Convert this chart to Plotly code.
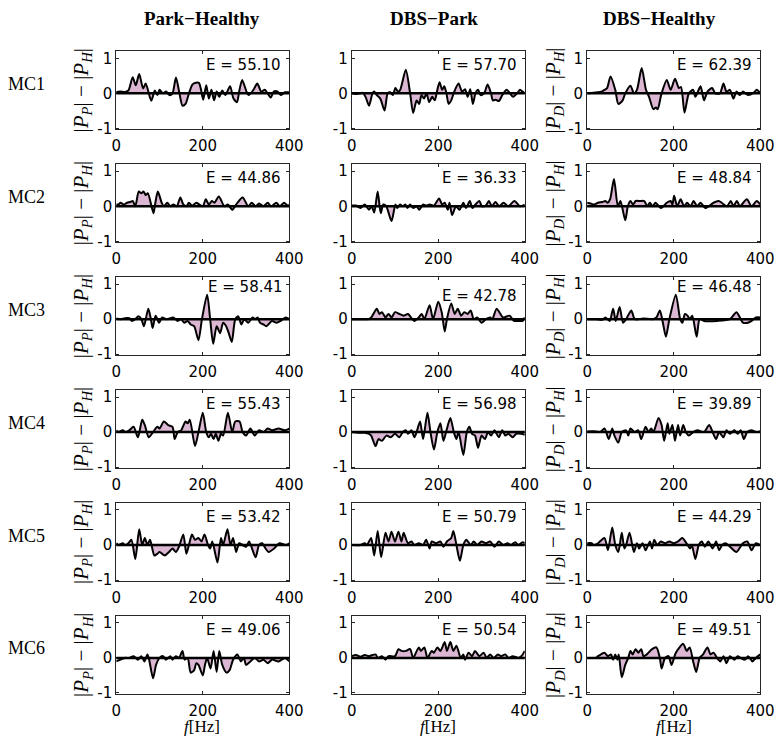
import plotly.graph_objects as go
from plotly.subplots import make_subplots

# Spaltentitel / Zeilen
COLUMNS = ["Park\u2212Healthy", "DBS\u2212Park", "DBS\u2212Healthy"]
ROWS = ["MC1", "MC2", "MC3", "MC4", "MC5", "MC6"]

E_VALUES = [
    [55.10, 57.70, 62.39],
    [44.86, 36.33, 48.84],
    [58.41, 42.78, 46.48],
    [55.43, 56.98, 39.89],
    [53.42, 50.79, 44.29],
    [49.06, 50.54, 49.51],
]

# Differenzspektren (f in Hz, Wert)
PH_MC1 = [(0, 0.04), (10, 0.05), (20, 0.04), (28, 0.08), (38, 0.46), (45, 0.23), (53, 0.55), (62, 0.14),
          (68, 0.28), (81, -0.21), (89, 0.08), (95, -0.05), (100, 0.1), (108, 0.0), (115, 0.05), (123, -0.05),
          (130, 0.0), (138, 0.45), (146, 0.0), (153, -0.35), (160, -0.3), (168, 0.0), (176, 0.25), (184, 0.3),
          (191, 0.3), (196, 0.1), (201, -0.18), (208, 0.23), (214, -0.15), (220, 0.1), (226, -0.2), (232, 0.05),
          (238, -0.1), (245, 0.08), (252, -0.05), (263, 0.2), (271, -0.15), (279, -0.25), (284, 0.05), (291, 0.38),
          (301, 0.05), (306, -0.05), (317, 0.1), (326, 0.28), (335, 0.05), (343, 0.1), (350, 0.0), (357, -0.12),
          (364, 0.05), (373, 0.05), (380, -0.05), (390, 0.03), (400, 0.03)]
DP_MC1 = [(0, 0.0), (10, -0.02), (20, 0.0), (25, 0.02), (32, -0.1), (40, -0.35), (48, 0.0), (52, 0.05),
          (58, -0.05), (66, -0.15), (76, -0.49), (83, 0.0), (89, 0.03), (95, -0.05), (101, 0.15), (107, 0.05),
          (112, 0.1), (125, 0.67), (135, 0.0), (142, -0.56), (150, -0.2), (156, -0.3), (161, -0.05), (167, -0.15),
          (173, 0.0), (179, -0.25), (186, -0.1), (192, -0.2), (197, 0.05), (203, 0.32), (209, 0.1), (214, 0.2),
          (219, 0.0), (224, -0.3), (230, -0.2), (237, 0.05), (247, 0.28), (255, 0.05), (262, 0.12), (268, -0.1),
          (274, 0.12), (280, -0.3), (286, 0.0), (292, 0.1), (298, -0.05), (306, 0.0), (314, 0.25), (322, 0.0),
          (326, -0.2), (333, -0.18), (340, -0.22), (348, -0.05), (358, 0.1), (366, 0.0), (373, -0.1), (382, 0.0),
          (389, 0.1), (395, 0.05), (400, 0.0)]
DH_MC1 = [(0, 0.0), (15, 0.02), (25, 0.03), (33, 0.05), (40, 0.1), (46, 0.15), (54, 0.48), (65, 0.1),
          (72, -0.3), (82, -0.2), (88, 0.0), (100, 0.22), (108, 0.0), (115, 0.1), (126, 0.72), (136, 0.1),
          (143, -0.1), (153, -0.45), (159, -0.4), (163, -0.45), (172, 0.0), (184, 0.38), (193, 0.1), (203, 0.42),
          (212, 0.15), (217, 0.18), (225, -0.55), (235, 0.0), (245, 0.1), (250, -0.1), (262, 0.2), (270, -0.2),
          (278, 0.05), (289, 0.15), (296, 0.0), (307, 0.0), (315, 0.28), (322, 0.05), (330, 0.1), (338, -0.15),
          (345, 0.05), (353, -0.05), (360, 0.05), (372, -0.05), (385, 0.02), (392, 0.1), (400, 0.0)]

PH_MC2 = [(0, 0.05), (5, 0.05), (10, 0.1), (17, 0.05), (25, 0.1), (32, 0.12), (38, 0.15), (44, 0.0),
          (52, 0.42), (58, 0.37), (63, 0.42), (68, 0.32), (73, 0.37), (86, -0.2), (89, 0.0), (96, 0.42), (105, 0.1),
          (110, 0.0), (118, 0.1), (125, 0.0), (132, 0.05), (140, 0.0), (148, 0.25), (155, 0.05), (162, 0.0),
          (168, 0.1), (175, 0.02), (185, 0.1), (192, 0.05), (200, 0.0), (207, 0.2), (214, 0.05), (221, 0.15),
          (227, 0.1), (237, 0.28), (250, 0.0), (258, 0.05), (268, -0.1), (277, 0.05), (292, 0.25), (305, 0.0),
          (313, 0.1), (322, 0.0), (330, 0.08), (340, 0.0), (350, 0.1), (358, 0.0), (370, 0.1), (378, 0.0),
          (388, 0.1), (395, 0.03), (400, 0.03)]
DP_MC2 = [(0, 0.02), (10, 0.02), (20, -0.05), (30, 0.05), (40, -0.1), (46, 0.0), (52, -0.18), (60, 0.42),
          (67, -0.2), (73, 0.05), (80, 0.0), (92, -0.42), (101, 0.05), (105, -0.05), (112, 0.05), (118, 0.0),
          (124, 0.05), (129, -0.05), (135, 0.05), (142, -0.05), (150, 0.0), (156, -0.1), (165, 0.05), (172, 0.02),
          (180, 0.05), (190, 0.02), (202, 0.22), (209, 0.05), (215, 0.1), (222, -0.1), (226, 0.1), (232, -0.25),
          (241, 0.0), (249, -0.1), (258, 0.1), (264, -0.05), (273, 0.15), (279, -0.05), (286, 0.05), (295, 0.15),
          (301, 0.0), (310, 0.02), (317, 0.15), (324, 0.0), (332, 0.12), (341, 0.0), (351, 0.1), (362, 0.0),
          (376, 0.15), (389, 0.0), (400, 0.05)]
DH_MC2 = [(0, 0.1), (8, 0.08), (15, 0.05), (25, 0.1), (35, 0.12), (42, 0.15), (47, 0.1), (53, 0.2),
          (62, 0.78), (71, 0.0), (77, 0.15), (88, -0.4), (94, 0.0), (100, 0.15), (106, 0.05), (112, 0.15),
          (122, 0.15), (132, 0.15), (139, 0.0), (145, 0.1), (151, 0.0), (158, 0.1), (166, 0.0), (171, -0.05),
          (184, 0.1), (193, 0.15), (197, 0.05), (201, 0.3), (208, 0.0), (216, 0.2), (224, 0.0), (231, 0.1),
          (239, 0.0), (246, 0.15), (254, 0.0), (262, 0.1), (273, -0.05), (281, 0.0), (292, 0.1), (304, 0.15),
          (311, 0.1), (323, 0.0), (332, 0.15), (338, 0.0), (346, 0.15), (353, 0.0), (369, 0.2), (380, 0.0),
          (392, 0.15), (400, 0.05)]

PH_MC3 = [(0, 0.02), (10, 0.0), (20, 0.03), (30, 0.03), (36, -0.05), (44, 0.0), (51, 0.08), (58, 0.0),
          (64, -0.2), (74, 0.3), (80, 0.0), (84, -0.25), (91, 0.1), (99, -0.1), (106, 0.05), (116, 0.0),
          (132, 0.05), (142, -0.05), (150, 0.0), (157, -0.1), (165, -0.05), (172, -0.15), (180, -0.2), (190, -0.6),
          (198, 0.0), (210, 0.7), (217, 0.0), (224, -0.7), (232, -0.2), (240, -0.4), (247, -0.1), (254, -0.2),
          (260, -0.4), (267, -0.65), (275, 0.0), (282, 0.08), (289, -0.15), (296, 0.0), (305, -0.1), (315, 0.05),
          (321, 0.0), (327, 0.05), (332, -0.1), (340, -0.15), (347, -0.2), (360, -0.05), (370, -0.1), (380, -0.05),
          (392, 0.05), (400, 0.0)]
DP_MC3 = [(0, 0.0), (20, 0.0), (38, 0.0), (45, 0.05), (58, 0.3), (64, 0.15), (70, 0.2), (78, 0.05),
          (85, 0.15), (92, 0.05), (100, 0.2), (110, 0.15), (120, 0.1), (130, 0.15), (140, 0.0), (145, -0.05),
          (155, 0.05), (162, 0.15), (168, 0.0), (180, 0.4), (188, 0.0), (200, 0.5), (208, 0.2), (215, -0.35),
          (220, 0.0), (230, 0.45), (238, 0.15), (245, 0.3), (253, 0.1), (260, 0.2), (268, 0.15), (275, 0.25),
          (282, 0.0), (290, 0.05), (300, -0.1), (310, 0.0), (320, 0.05), (325, 0.0), (335, 0.3), (350, 0.05),
          (365, 0.1), (375, -0.05), (385, -0.05), (395, -0.05), (400, 0.05)]
DH_MC3 = [(0, 0.0), (20, 0.0), (35, -0.02), (42, 0.05), (52, -0.05), (60, 0.3), (66, -0.05), (75, 0.35),
          (83, -0.1), (90, 0.0), (102, 0.25), (110, 0.0), (130, 0.02), (150, 0.0), (160, 0.05), (168, 0.25),
          (175, -0.1), (182, -0.5), (190, 0.0), (205, 0.7), (215, 0.0), (220, -0.1), (226, 0.15), (232, 0.1),
          (237, 0.0), (243, 0.1), (253, -0.5), (260, 0.0), (270, -0.05), (300, -0.05), (330, 0.0), (345, 0.2),
          (355, 0.0), (360, -0.1), (372, -0.1), (380, -0.05), (390, 0.05), (400, 0.05)]

PH_MC4 = [(0, 0.05), (5, 0.0), (15, 0.05), (22, 0.0), (30, 0.05), (40, 0.15), (50, -0.15), (60, 0.35),
          (66, 0.2), (75, -0.15), (85, 0.0), (95, 0.15), (100, 0.1), (110, 0.3), (120, 0.2), (130, 0.15),
          (135, -0.2), (142, 0.0), (150, 0.05), (160, 0.3), (165, 0.25), (170, 0.35), (182, -0.4), (190, 0.0),
          (200, 0.55), (208, 0.0), (214, -0.15), (219, -0.05), (225, -0.2), (230, -0.05), (236, -0.25), (242, -0.05),
          (247, -0.1), (258, 0.55), (268, 0.0), (275, 0.3), (285, 0.3), (292, 0.0), (300, -0.1), (310, 0.1),
          (320, -0.1), (330, 0.05), (340, 0.0), (350, 0.1), (360, 0.05), (375, 0.1), (390, 0.05), (400, 0.1)]
DP_MC4 = [(0, 0.0), (15, -0.02), (30, -0.02), (40, -0.05), (45, -0.1), (55, -0.4), (62, -0.2), (70, -0.25),
          (80, -0.1), (90, -0.15), (100, -0.05), (110, -0.15), (118, 0.0), (125, 0.05), (130, -0.05), (138, 0.05),
          (145, -0.15), (150, 0.0), (158, 0.3), (165, -0.2), (175, 0.55), (182, 0.0), (190, -0.5), (198, 0.0),
          (205, 0.25), (212, -0.25), (218, 0.0), (228, 0.4), (236, 0.0), (242, -0.2), (247, 0.0), (258, -0.65),
          (266, 0.0), (272, 0.15), (278, -0.05), (285, -0.1), (292, -0.45), (300, -0.1), (308, -0.2), (315, 0.0),
          (322, -0.1), (330, 0.05), (335, -0.05), (340, -0.15), (348, 0.05), (355, -0.1), (362, -0.05), (372, -0.15),
          (380, -0.05), (392, -0.05), (400, -0.08)]
DH_MC4 = [(0, 0.02), (20, 0.02), (30, 0.0), (40, 0.1), (50, -0.2), (58, 0.1), (63, -0.1), (72, -0.3),
          (80, 0.0), (90, 0.05), (95, -0.1), (100, 0.1), (110, 0.0), (118, 0.05), (125, -0.2), (135, 0.15),
          (142, 0.0), (148, 0.1), (153, 0.0), (165, 0.4), (172, 0.2), (178, -0.25), (186, 0.25), (190, -0.05),
          (197, 0.2), (203, -0.25), (210, 0.2), (215, -0.1), (222, 0.2), (228, 0.0), (235, -0.1), (245, 0.0),
          (255, 0.05), (270, 0.0), (282, 0.2), (290, 0.0), (298, -0.2), (305, 0.0), (315, -0.15), (322, 0.05),
          (330, -0.05), (340, 0.05), (348, -0.05), (355, 0.05), (362, -0.2), (370, 0.0), (380, 0.05), (390, 0.0),
          (400, 0.02)]

PH_MC5 = [(0, 0.05), (5, 0.0), (15, 0.05), (20, 0.0), (28, 0.05), (35, 0.15), (44, -0.4), (53, 0.45),
          (60, 0.0), (66, 0.2), (72, 0.0), (78, 0.15), (88, -0.3), (95, -0.25), (100, -0.2), (112, -0.3),
          (122, -0.2), (130, -0.1), (138, -0.2), (145, -0.05), (155, 0.3), (162, -0.25), (168, 0.0), (175, 0.3),
          (182, 0.15), (190, 0.2), (197, 0.1), (204, 0.3), (212, 0.0), (217, -0.1), (222, 0.1), (234, -0.5),
          (242, 0.2), (247, 0.0), (257, 0.45), (264, 0.0), (270, 0.2), (277, -0.2), (284, 0.05), (292, 0.0),
          (300, -0.05), (307, 0.1), (322, -0.35), (330, 0.0), (337, 0.05), (345, -0.1), (352, -0.2), (365, -0.1),
          (377, 0.05), (392, 0.0), (400, 0.05)]
DP_MC5 = [(0, 0.0), (20, 0.0), (30, 0.05), (35, 0.0), (40, 0.1), (45, 0.2), (52, -0.3), (60, 0.4),
          (68, -0.35), (78, 0.35), (85, 0.1), (92, 0.38), (100, 0.1), (108, 0.38), (115, 0.1), (120, 0.35),
          (130, 0.05), (138, 0.1), (145, 0.0), (155, 0.05), (165, 0.0), (172, 0.15), (180, -0.1), (185, 0.1),
          (195, 0.05), (205, 0.1), (212, -0.05), (220, 0.1), (230, 0.2), (235, 0.4), (242, 0.0), (250, -0.45),
          (258, 0.0), (265, 0.15), (275, 0.0), (282, 0.1), (290, 0.0), (300, 0.1), (310, 0.05), (320, 0.1),
          (330, -0.05), (340, 0.1), (350, 0.0), (360, 0.05), (368, 0.0), (378, 0.08), (385, 0.0), (395, 0.08),
          (400, 0.05)]
DH_MC5 = [(0, 0.05), (10, 0.05), (15, 0.0), (25, 0.05), (40, 0.2), (48, -0.15), (58, 0.5), (65, 0.0),
          (72, -0.2), (80, 0.35), (86, -0.1), (90, 0.0), (98, 0.35), (108, -0.2), (115, 0.05), (120, -0.1),
          (128, 0.05), (135, -0.15), (145, 0.1), (150, -0.1), (155, 0.15), (162, 0.0), (170, 0.1), (180, 0.05),
          (190, 0.1), (200, 0.05), (210, 0.1), (220, 0.2), (232, 0.0), (238, -0.1), (242, 0.0), (250, -0.4),
          (258, 0.0), (265, 0.1), (272, -0.05), (280, 0.1), (290, -0.1), (298, 0.1), (305, -0.15), (312, 0.0),
          (320, 0.05), (330, -0.05), (345, -0.2), (360, 0.05), (370, 0.1), (380, -0.15), (390, 0.05), (400, 0.0)]

PH_MC6 = [(0, -0.1), (10, -0.05), (20, 0.0), (30, 0.0), (40, 0.05), (50, -0.05), (58, 0.05), (65, -0.1),
          (72, 0.1), (76, -0.05), (85, -0.58), (92, -0.2), (100, 0.0), (108, 0.05), (115, -0.05), (125, 0.05),
          (130, -0.05), (138, 0.05), (145, 0.0), (153, 0.2), (158, -0.05), (165, 0.0), (172, -0.42), (180, -0.35),
          (185, -0.15), (190, -0.2), (200, -0.5), (205, -0.2), (210, 0.0), (218, -0.3), (225, 0.2), (232, -0.4),
          (238, 0.2), (245, -0.2), (255, -0.42), (262, -0.35), (270, -0.05), (280, 0.1), (288, -0.1), (295, 0.0),
          (300, -0.2), (310, -0.1), (320, 0.0), (330, -0.1), (340, -0.05), (350, -0.15), (360, -0.05), (375, -0.1),
          (390, 0.0), (400, -0.1)]
DP_MC6 = [(0, 0.05), (10, 0.08), (20, 0.03), (30, 0.08), (40, 0.05), (55, 0.1), (60, 0.0), (70, 0.05),
          (78, -0.05), (85, 0.05), (100, 0.05), (108, 0.25), (115, 0.2), (125, 0.2), (135, 0.25), (142, 0.0),
          (155, 0.3), (160, 0.2), (168, 0.3), (175, 0.0), (185, 0.2), (190, 0.15), (198, 0.3), (205, 0.2),
          (215, 0.45), (220, 0.2), (228, 0.45), (235, 0.2), (242, 0.35), (252, 0.0), (258, 0.1), (262, -0.05),
          (270, 0.15), (278, 0.05), (285, 0.2), (295, 0.05), (305, 0.15), (312, 0.0), (320, 0.1), (328, 0.0),
          (338, 0.1), (345, 0.05), (355, 0.1), (362, 0.0), (372, 0.05), (385, 0.0), (392, 0.05), (400, 0.2)]
DH_MC6 = [(0, 0.0), (20, 0.0), (25, 0.05), (40, 0.15), (48, 0.05), (55, 0.1), (60, -0.05), (65, 0.1),
          (70, -0.05), (73, 0.1), (80, -0.55), (88, -0.2), (95, 0.0), (100, 0.2), (105, 0.1), (112, 0.25),
          (118, 0.15), (125, 0.25), (130, 0.05), (138, 0.1), (150, 0.25), (160, 0.3), (168, 0.0), (172, -0.3),
          (180, 0.0), (188, 0.05), (195, -0.2), (205, 0.15), (222, 0.4), (230, 0.2), (237, 0.3), (245, -0.1),
          (252, -0.4), (260, 0.0), (268, 0.1), (278, 0.3), (285, 0.1), (292, 0.15), (300, 0.0), (308, -0.1),
          (315, 0.05), (322, -0.15), (330, 0.05), (340, -0.05), (348, 0.05), (355, 0.0), (365, -0.05), (372, 0.05),
          (382, -0.1), (390, 0.0), (400, 0.1)]

CURVES = [
    [PH_MC1, DP_MC1, DH_MC1],
    [PH_MC2, DP_MC2, DH_MC2],
    [PH_MC3, DP_MC3, DH_MC3],
    [PH_MC4, DP_MC4, DH_MC4],
    [PH_MC5, DP_MC5, DH_MC5],
    [PH_MC6, DP_MC6, DH_MC6],
]

PINK = "rgb(219,183,211)"
SERIF = "Liberation Serif"
SANS = "DejaVu Sans"

W, H = 782, 738


# Seitenrand des Browsers (8 px) wird mitskaliert -> Zielpixel auf Layoutpixel umrechnen
def px_x(p):
    return p / 0.99 - 8


def px_y(p):
    return p / 0.989 - 8


# Zielpositionen der Achsenboxen im Bild
COL_PX = [(112.7, 288.3), (351.6, 527.2), (590.5, 766.1)]
ROW_TOP = 49.3
ROW_H = 78.4
ROW_STEP = 113.2

fig = make_subplots(rows=6, cols=3)

for r in range(6):
    for c in range(3):
        n = r * 3 + c + 1
        sfx = "" if n == 1 else str(n)
        top = ROW_TOP + r * ROW_STEP
        x0, x1 = COL_PX[c]
        fig.update_layout(**{
            f"xaxis{sfx}": dict(domain=[px_x(x0) / W, px_x(x1) / W]),
            f"yaxis{sfx}": dict(domain=[1 - px_y(top + ROW_H) / H, 1 - px_y(top) / H]),
        })

        f, v = zip(*CURVES[r][c])
        fig.add_trace(go.Scatter(
            x=list(f), y=list(v),
            mode="lines",
            line=dict(color="black", width=2, shape="spline", smoothing=0.7),
            fill="tozeroy",
            fillcolor=PINK,
            showlegend=False,
            hoverinfo="skip",
        ), row=r + 1, col=c + 1)
        # dicke Nulllinie über der Füllung
        fig.add_hline(y=0, line_color="black", line_width=2.5, layer="above", row=r + 1, col=c + 1)

        # Energie-Text oben rechts
        ey = 0.8
        ex = 203
        if r == 2:
            ey = 0.92 if c != 1 else 0.67
            if c == 0:
                ex = 208
        fig.add_annotation(
            x=ex, y=ey, xref=f"x{sfx}", yref=f"y{sfx}",
            text=f"E = {E_VALUES[r][c]:.2f}", showarrow=False, xanchor="left", yanchor="middle",
            font=dict(family=SANS, size=15, color="black"),
        )

fig.update_xaxes(
    range=[0, 400], tickvals=[0, 200, 400], ticks="inside", ticklen=3, tickcolor="#262626",
    showline=True, linecolor="#262626", linewidth=1, mirror="allticks", ticklabelstandoff=3,
    showgrid=False, zeroline=False, tickfont=dict(family=SANS, size=15, color="black"),
)
fig.update_yaxes(
    range=[-1.03, 1.2], tickvals=[-1, 0, 1], ticktext=["-1", "0", "1"], ticks="inside", ticklen=3,
    tickcolor="#262626", showline=True, linecolor="#262626", linewidth=1, mirror="allticks",
    showgrid=False, zeroline=False, tickfont=dict(family=SANS, size=15, color="black"),
)


def paper(xp, yp):
    return px_x(xp) / W, 1 - px_y(yp) / H


# Spaltentitel (ganz oben, nicht abschneiden)
for x_px, title in zip([200, 435, 664], COLUMNS):
    px, _ = paper(x_px, 11)
    fig.add_annotation(x=px, y=1 - 8.5 / H, xref="paper", yref="paper", text=f"<b>{title}</b>",
                       showarrow=False, xanchor="center", yanchor="middle",
                       font=dict(family=SERIF, size=19, color="black"))

ylab_left = "|<i>P</i><sub><i>P</i></sub>| \u2212 |<i>P</i><sub><i>H</i></sub>|"
ylab_right = "|<i>P</i><sub><i>D</i></sub>| \u2212 |<i>P</i><sub><i>H</i></sub>|"

for r, name in enumerate(ROWS):
    yc = ROW_TOP + ROW_H / 2 + ROW_STEP * r
    px, py = paper(22, 82 + ROW_STEP * r)
    fig.add_annotation(x=px, y=py, xref="paper", yref="paper", text=name,
                       showarrow=False, xanchor="center", yanchor="middle",
                       font=dict(family=SERIF, size=18, color="black"))
    for x_px, lab in [(78, ylab_left), (557, ylab_right)]:
        px, py = paper(x_px, yc)
        fig.add_annotation(x=px, y=py, xref="paper", yref="paper", text=lab,
                           textangle=-90, showarrow=False, xanchor="center", yanchor="middle",
                           font=dict(family=SERIF, size=21, color="black"))

# x-Achsentitel unten, innerhalb der Seite halten
for x_px in [200, 439, 679]:
    px, _ = paper(x_px, 725)
    fig.add_annotation(x=px, y=0, xref="paper", yref="paper", text="<i>f</i>[Hz]",
                       showarrow=False, xanchor="center", yanchor="bottom",
                       font=dict(family=SERIF, size=17, color="black"))

fig.update_layout(
    width=W, height=H,
    margin=dict(l=0, r=0, t=0, b=0),
    paper_bgcolor="white", plot_bgcolor="white",
    showlegend=False,
)

fig.write_html("out.html")
